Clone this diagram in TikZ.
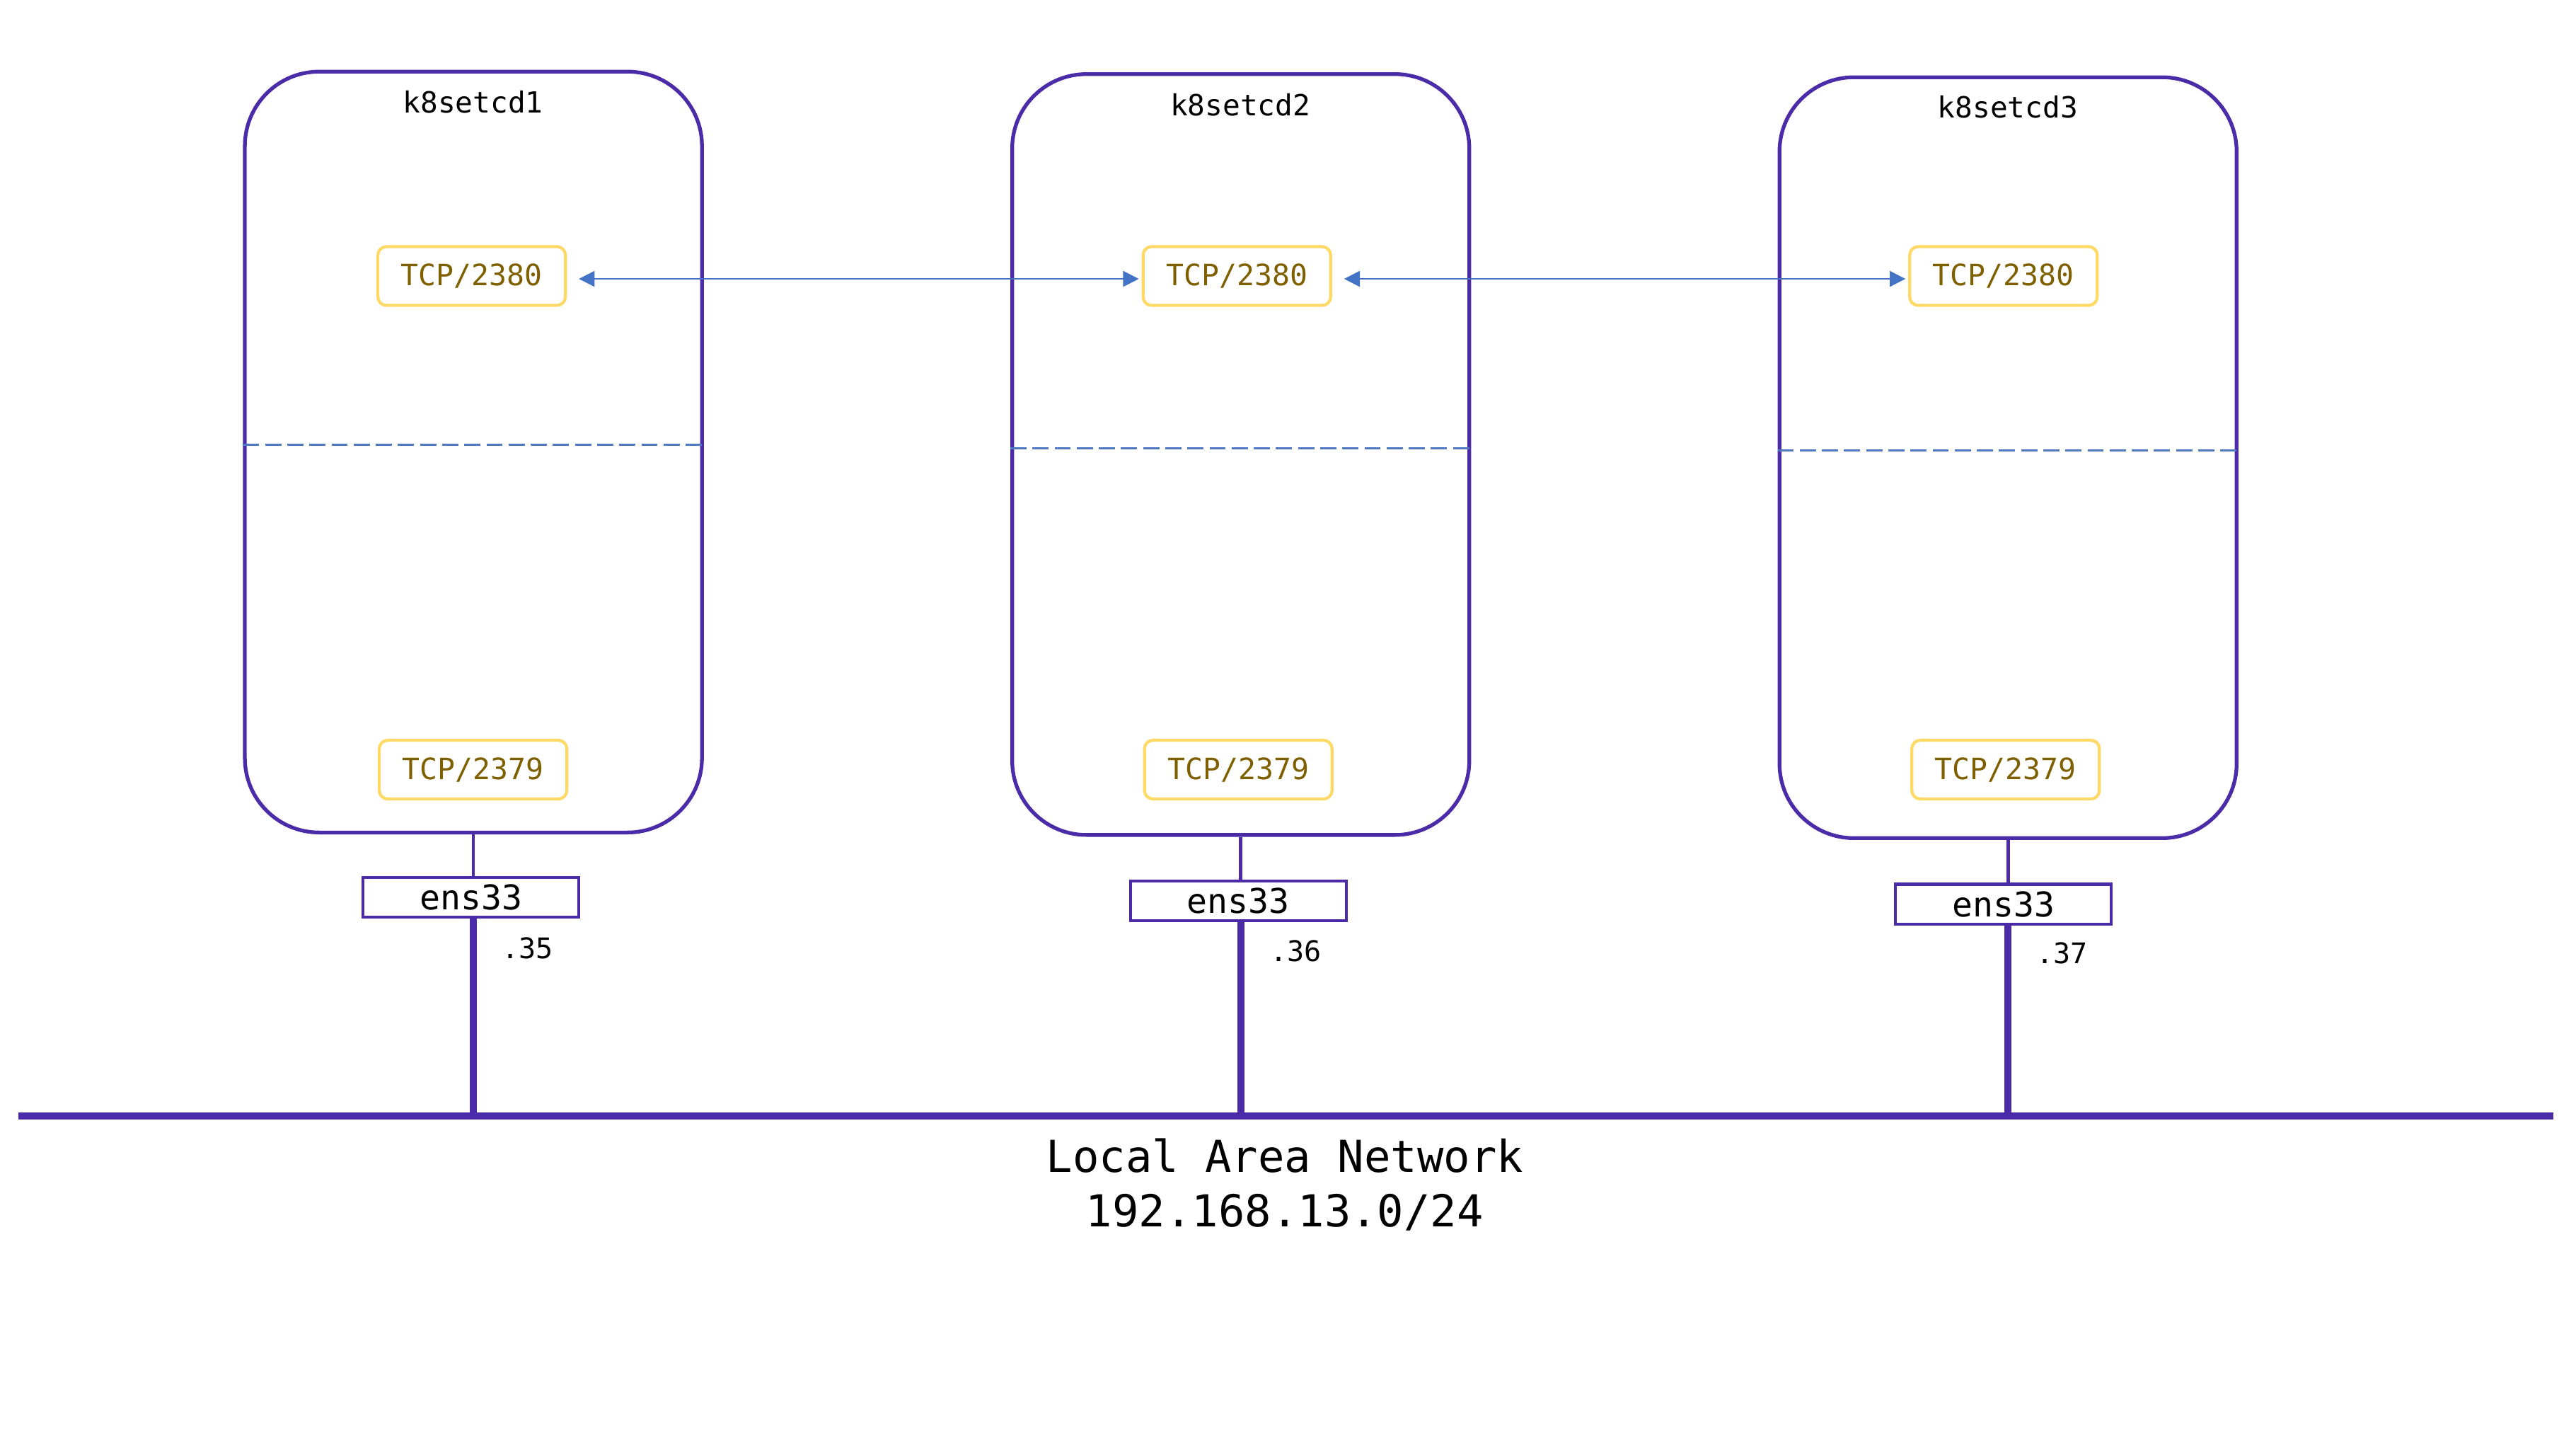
\documentclass[tikz,border=0pt]{standalone}
\usepackage{fontspec}
\setmonofont{DejaVu Sans Mono}
\usetikzlibrary{arrows.meta,calc}
\definecolor{hostc}{RGB}{76,43,168}
\definecolor{portb}{RGB}{255,217,102}
\definecolor{portt}{RGB}{127,96,0}
\definecolor{arrc}{RGB}{68,114,196}
\definecolor{sepc}{RGB}{79,120,192}
\tikzset{
  host/.style={draw=hostc,line width=1.5pt,rounded corners=1.05cm,minimum width=6.46cm,minimum height=10.75cm,inner sep=0pt},
  title/.style={font=\ttfamily\fontsize{11.7}{14}\selectfont,text=black,inner sep=0pt},
  port/.style={draw=portb,line width=1.2pt,rounded corners=0.12cm,minimum width=2.65cm,minimum height=0.83cm,inner sep=0pt,text=portt,font=\ttfamily\fontsize{11.8}{14}\selectfont},
  nic/.style={draw=hostc,line width=1.2pt,minimum width=3.05cm,minimum height=0.56cm,inner sep=0pt,font=\ttfamily\fontsize{13.7}{16}\selectfont},
  addr/.style={font=\ttfamily\fontsize{11.4}{14}\selectfont,inner sep=0pt},
  lantext/.style={font=\ttfamily\fontsize{17.7}{21}\selectfont,inner sep=0pt},
  peer/.style={draw=arrc,line width=0.6pt,{Triangle[length=6.3pt,width=6.3pt]}-{Triangle[length=6.3pt,width=6.3pt]}},
  sep/.style={draw=sepc,line width=0.85pt,dash pattern=on 6.5pt off 2.4pt},
  thin/.style={draw=hostc,line width=1.3pt},
  thick/.style={draw=hostc,line width=2.8pt},
}
\begin{document}
\begin{tikzpicture}[x=0.00995cm,y=-0.00995cm]
\useasboundingbox[fill=white] (0,0) rectangle (3659.3,2058.3);
% hosts
\node[host] (b1) at (672.5,642) {};
\node[host] (b2) at (1762.5,645.5) {};
\node[host] (b3) at (2852.5,650) {};
\node[title] (n1) at (672,145) {k8setcd1};
\node[title] (n2) at (1762,149) {k8setcd2};
\node[title] (n3) at (2852,152) {k8setcd3};
% peer ports
\node[port] (p1) at (670,392) {TCP/2380};
\node[port] (p2) at (1757,392) {TCP/2380};
\node[port] (p3) at (2846,392) {TCP/2380};
% client ports
\node[port] (c1) at (672,1093) {TCP/2379};
\node[port] (c2) at (1759,1093) {TCP/2379};
\node[port] (c3) at (2849,1093) {TCP/2379};
% separators
\path[sep] (b1.west |- 0,632) -- (b1.east |- 0,632);
\path[sep] (b2.west |- 0,637) -- (b2.east |- 0,637);
\path[sep] (b3.west |- 0,640) -- (b3.east |- 0,640);
% peer arrows
\path[peer] ([xshift=0.17cm,yshift=-0.04cm]p1.east) -- ([xshift=-0.04cm,yshift=-0.04cm]p2.west);
\path[peer] ([xshift=0.17cm,yshift=-0.04cm]p2.east) -- ([xshift=-0.04cm,yshift=-0.04cm]p3.west);
% nics
\node[nic] (e1) at (669,1274) {ens33};
\node[nic] (e2) at (1759,1279) {ens33};
\node[nic] (e3) at (2846,1284) {ens33};
\coordinate (lanL) at (26,1585);
\coordinate (lanR) at (3627,1585);
\path[thick] (lanL) -- (lanR);
\path[thin] (b1.south) -- (b1.south |- e1.north);
\path[thin] (b2.south) -- (b2.south |- e2.north);
\path[thin] (b3.south) -- (b3.south |- e3.north);
\path[thick] (b1.south |- e1.south) -- (b1.south |- lanL);
\path[thick] (b2.south |- e2.south) -- (b2.south |- lanL);
\path[thick] (b3.south |- e3.south) -- (b3.south |- lanL);
\node[addr] (a1) at (749,1347) {.35};
\node[addr] (a2) at (1841,1351) {.36};
\node[addr] (a3) at (2929,1354) {.37};
\node[lantext] (l1) at (1825,1641) {Local Area Network};
\node[lantext] (l2) at (1825,1722) {192.168.13.0/24};
\end{tikzpicture}
\end{document}
